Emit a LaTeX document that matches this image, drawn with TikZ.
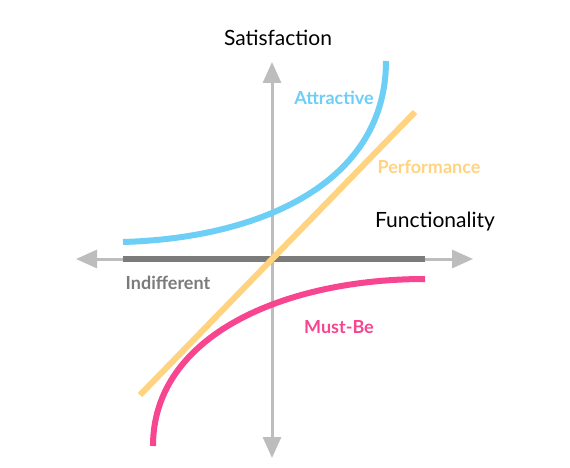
\documentclass[tikz,border=0pt]{standalone}
\usepackage{fontspec}
\setmainfont{Lato}
\usetikzlibrary{arrows.meta}
\definecolor{axisgray}{HTML}{BDBDBD}
\definecolor{bargray}{HTML}{7B7B7B}
\definecolor{attrblue}{HTML}{6DCFF6}
\definecolor{perforange}{HTML}{FFD37F}
\definecolor{mustpink}{HTML}{F7468F}
\tikzset{
  axis/.style={axisgray, line width=3pt, -{Triangle[length=21pt,width=18pt]}},
  curve/.style={line width=6pt},
  axislabel/.style={font=\fontsize{21}{23}\selectfont, text=black, inner sep=0pt},
  kanolabel/.style={font=\bfseries\fontsize{18}{20}\selectfont, inner sep=0pt},
}
\begin{document}
\begin{tikzpicture}[x=1pt,y=-1pt]
\useasboundingbox[fill=white] (0,0) rectangle (570,468);
% axes coordinates
\coordinate (origin) at (272,259);
\coordinate (ytop) at (272,62);
\coordinate (ybot) at (272,458);
\coordinate (xleft) at (76,259);
\coordinate (xright) at (473,259);
\draw[axis] (origin) -- (ytop);
\draw[axis] (origin) -- (ybot);
\draw[axis] (origin) -- (xleft);
\draw[axis] (origin) -- (xright);
% indifferent bar
\coordinate (ind1) at (123,259);
\coordinate (ind2) at (425,259);
\draw[bargray, line width=6pt] (ind1) -- (ind2);
% performance line
\coordinate (perf1) at (140,395);
\coordinate (perf2) at (415,112);
\draw[perforange, curve] (perf1) -- (perf2);
% attractive curve
\coordinate (att1) at (123,242);
\coordinate (att2) at (386,61);
\draw[attrblue, curve] (att1) .. controls (262,238) and (386,182) .. (att2);
% must-be curve
\coordinate (must1) at (153,446);
\coordinate (must2) at (425,279);
\draw[mustpink, curve] (must1) .. controls (153,335) and (285,279) .. (must2);
% labels
\node[axislabel] (sat) at (278,38) {Satisfaction};
\node[axislabel] (func) at (435,222) {Functionality};
\node[kanolabel, text=attrblue] (attlab) at (334,98) {Attractive};
\node[kanolabel, text=perforange] (perflab) at (429,167) {Performance};
\node[kanolabel, text=bargray] (indlab) at (168,283) {Indifferent};
\node[kanolabel, text=mustpink] (mustlab) at (339,327) {Must-Be};
\end{tikzpicture}
\end{document}
